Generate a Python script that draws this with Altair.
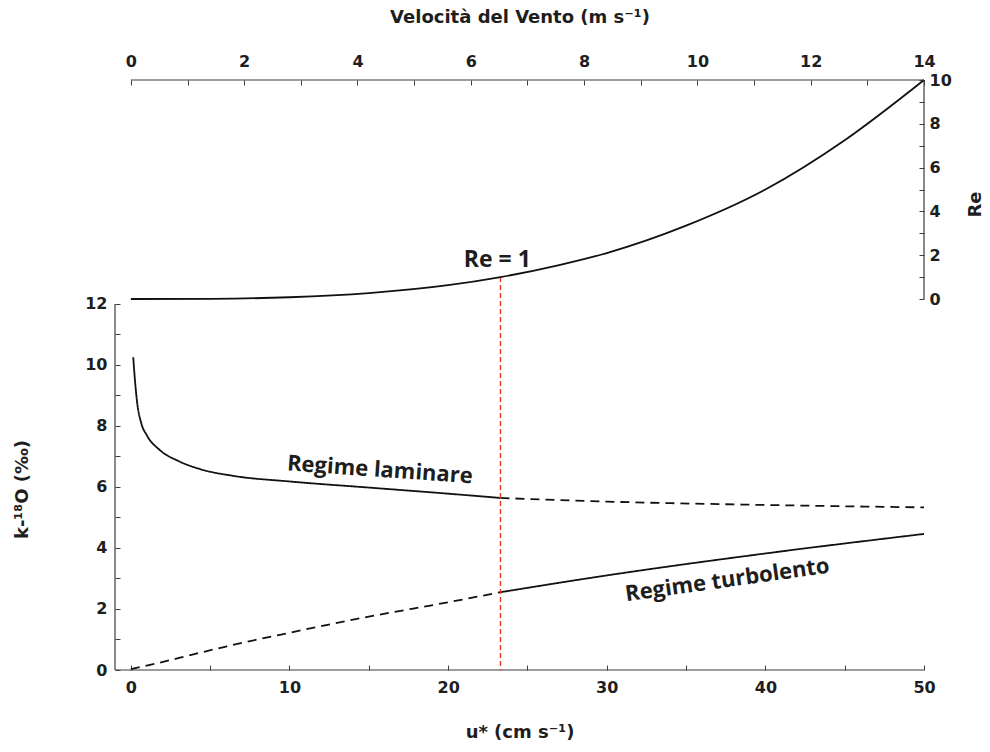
import altair as alt
import pandas as pd

# ---- data (u* in cm/s, k in permil, Re dimensionless) ----
# laminar regime: solid below Re = 1, dashed beyond
LAM_SOLID_U = [0.15, 0.25, 0.4, 0.65, 1.0, 1.8, 3.0, 4.4, 6.5, 10, 15, 20, 23.3]
LAM_SOLID_K = [10.25, 9.55, 8.75, 8.1, 7.7, 7.22, 6.85, 6.58, 6.36, 6.18, 5.98, 5.78, 5.64]
LAM_DASH_U = [23.3, 30, 40, 50]
LAM_DASH_K = [5.64, 5.52, 5.41, 5.33]

# turbulent regime: dashed below Re = 1, solid beyond
TUR_DASH_U = [0, 1.5, 4, 6, 10, 15, 20, 23.3]
TUR_DASH_K = [0.03, 0.2, 0.52, 0.77, 1.22, 1.75, 2.22, 2.55]
TUR_SOLID_U = [23.3, 30, 40, 50]
TUR_SOLID_K = [2.55, 3.1, 3.82, 4.46]

# Reynolds number against u*
RE_U = [0, 5, 10, 15, 20, 23.3, 27, 30, 35, 40, 45, 50]
RE_V = [0, 0.01, 0.08, 0.27, 0.63, 1.0, 1.55, 2.1, 3.35, 5.0, 7.25, 10.0]

U_RE1 = 23.3  # u* where Re = 1

BOTTOM_TICKS = list(range(0, 51, 5))
LEFT_TICKS = list(range(0, 13))
RIGHT_TICKS = list(range(0, 11))
TOP_TICKS = list(range(0, 15))


def segment(u, k, seg, style):
    return pd.DataFrame({"u": u, "k": k, "seg": seg, "style": style})


curves = pd.concat([
    segment(LAM_SOLID_U, LAM_SOLID_K, "lam_a", "solid"),
    segment(LAM_DASH_U, LAM_DASH_K, "lam_b", "dashed"),
    segment(TUR_DASH_U, TUR_DASH_K, "tur_a", "dashed"),
    segment(TUR_SOLID_U, TUR_SOLID_K, "tur_b", "solid"),
], ignore_index=True)
re_curve = pd.DataFrame({"u": RE_U, "re": RE_V})
one_row = pd.DataFrame({"a": [0]})

# ---- layout ----
W, H = 809, 590
U_DOMAIN = [-1, 50]
K_DOMAIN = [0, 19.34]
RE_DOMAIN = [-16.94, 10]
WIND_DOMAIN = [-0.28, 14]

AX_FONT = "DejaVu Sans"
NOTE_FONT = "Open Sans"
AX_COLOR = "#3c3c3c"
TXT_COLOR = "#1e1e1e"
EVEN_ONLY = "datum.value % 2 === 0 ? datum.label : ''"

common_axis = dict(
    domain=False, grid=False, offset=-5, tickSize=5, tickWidth=1,
    tickColor=AX_COLOR, labelFont=AX_FONT, labelFontWeight="bold",
    labelFontSize=16, labelColor=TXT_COLOR, labelFlush=False,
    labelOverlap=False, titleFont=AX_FONT, titleFontWeight="bold",
    titleFontSize=18, titleColor=TXT_COLOR,
)

axis_bottom = alt.Axis(
    orient="bottom", values=BOTTOM_TICKS,
    labelExpr="datum.value % 10 === 0 ? datum.label : ''",
    labelPadding=9, title="u* (cm s⁻¹)", titlePadding=28, **common_axis)
axis_left = alt.Axis(
    orient="left", values=LEFT_TICKS, labelExpr=EVEN_ONLY,
    labelPadding=8, title="k-¹⁸O (‰)", titleAngle=270, titleX=-98,
    titleY=409, titleAlign="center", titleBaseline="middle", **common_axis)
axis_right = alt.Axis(
    orient="right", values=RIGHT_TICKS, labelExpr=EVEN_ONLY,
    labelPadding=5, title="Re", titleAngle=270, titleX=56, titleY=124,
    titleAlign="center", titleBaseline="middle", **common_axis)
axis_top = alt.Axis(
    orient="top", values=TOP_TICKS, labelExpr=EVEN_ONLY,
    labelPadding=11, title="Velocità del Vento (m s⁻¹)", titlePadding=27,
    **common_axis)

x_u = alt.Scale(domain=U_DOMAIN, nice=False, zero=False)
y_k = alt.Scale(domain=K_DOMAIN, nice=False, zero=False)
y_re = alt.Scale(domain=RE_DOMAIN, nice=False, zero=False)
x_wind = alt.Scale(domain=WIND_DOMAIN, nice=False, zero=False)

X_U = dict(scale=x_u, axis=axis_bottom)
Y_K = dict(scale=y_k, axis=axis_left)

# ---- k panel (left / bottom axes) ----
lines = alt.Chart(curves).mark_line(
    color="#111111", strokeWidth=1.8, interpolate="monotone"
).encode(
    x=alt.X("u:Q", **X_U),
    y=alt.Y("k:Q", **Y_K),
    detail="seg:N",
    strokeDash=alt.StrokeDash(
        "style:N",
        scale=alt.Scale(domain=["solid", "dashed"], range=[[1, 0], [9, 6]]),
        legend=None,
    ),
)

left_line = alt.Chart(one_row).mark_rule(color=AX_COLOR, strokeWidth=1.2).encode(
    x=alt.XDatum(U_DOMAIN[0], type="quantitative", **X_U),
    y=alt.YDatum(0, type="quantitative", **Y_K),
    y2=alt.Y2Datum(12),
)
bottom_line = alt.Chart(one_row).mark_rule(color=AX_COLOR, strokeWidth=1.2).encode(
    x=alt.XDatum(U_DOMAIN[0], type="quantitative", **X_U),
    x2=alt.X2Datum(U_DOMAIN[1]),
    y=alt.YDatum(0, type="quantitative", **Y_K),
)

lam_label = alt.Chart(one_row).mark_text(
    text="Regime laminare", font=NOTE_FONT, fontWeight="bold", fontSize=22,
    angle=4, color=TXT_COLOR, align="center", baseline="middle",
).encode(
    x=alt.XDatum(15.7, type="quantitative", **X_U),
    y=alt.YDatum(6.56, type="quantitative", **Y_K),
)
tur_label = alt.Chart(one_row).mark_text(
    text="Regime turbolento", font=NOTE_FONT, fontWeight="bold", fontSize=22,
    angle=352, color=TXT_COLOR, align="center", baseline="middle",
).encode(
    x=alt.XDatum(37.6, type="quantitative", **X_U),
    y=alt.YDatum(2.95, type="quantitative", **Y_K),
)

k_panel = alt.layer(bottom_line, left_line, lines, lam_label, tur_label)

# ---- Re panel (right axis) ----
X_U2 = dict(scale=x_u, axis=None)
Y_RE = dict(scale=y_re, axis=axis_right)

re_line = alt.Chart(re_curve).mark_line(
    color="#111111", strokeWidth=1.8, interpolate="monotone"
).encode(
    x=alt.X("u:Q", **X_U2),
    y=alt.Y("re:Q", **Y_RE),
)
re1_rule = alt.Chart(one_row).mark_rule(
    color="#e23b2e", strokeWidth=1.4, strokeDash=[5, 3]
).encode(
    x=alt.XDatum(U_RE1, type="quantitative", **X_U2),
    y=alt.YDatum(1, type="quantitative", **Y_RE),
    y2=alt.Y2Datum(RE_DOMAIN[0]),
)
right_line = alt.Chart(one_row).mark_rule(color=AX_COLOR, strokeWidth=1.2).encode(
    x=alt.XDatum(U_DOMAIN[1], type="quantitative", **X_U2),
    y=alt.YDatum(0, type="quantitative", **Y_RE),
    y2=alt.Y2Datum(10),
)
re1_label = alt.Chart(one_row).mark_text(
    text="Re = 1", font=NOTE_FONT, fontWeight="bold", fontSize=23,
    color=TXT_COLOR, align="center", baseline="middle",
).encode(
    x=alt.XDatum(23.1, type="quantitative", **X_U2),
    y=alt.YDatum(1.8, type="quantitative", **Y_RE),
)

re_panel = alt.layer(right_line, re1_rule, re_line, re1_label)

# ---- wind speed (top axis) ----
top_line = alt.Chart(one_row).mark_rule(color=AX_COLOR, strokeWidth=1.2).encode(
    x=alt.XDatum(0, type="quantitative", scale=x_wind, axis=axis_top),
    x2=alt.X2Datum(14),
    y=alt.value(0),
)

chart = alt.layer(k_panel, re_panel, top_line).resolve_scale(
    x="independent", y="independent"
).properties(
    width=W, height=H,
    autosize=alt.AutoSizeParams(type="none"),
    padding={"left": 115, "top": 80, "right": 66, "bottom": 82},
    background="white",
).configure_view(stroke=None)

chart.save("out.html", embed_options={"renderer": "svg", "actions": False})
